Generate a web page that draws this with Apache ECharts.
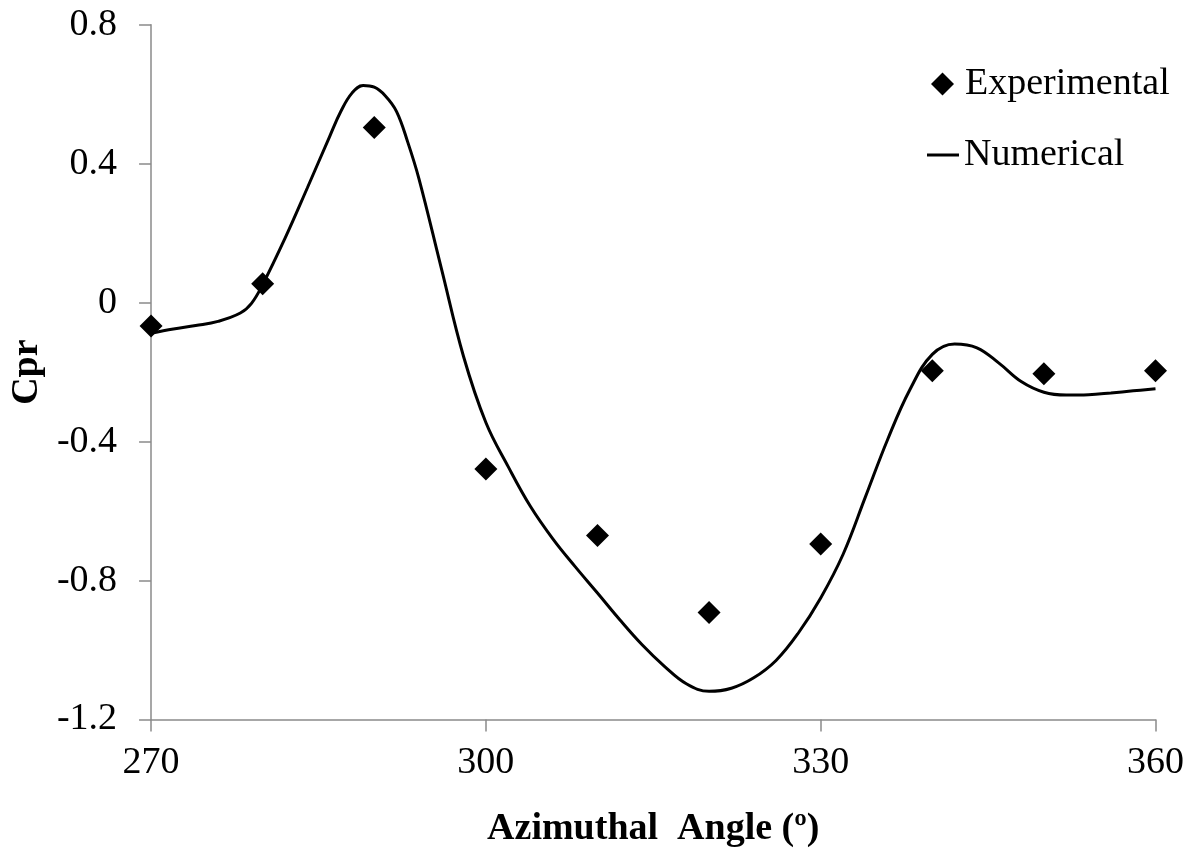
<!DOCTYPE html>
<html>
<head>
<meta charset="utf-8">
<script src="https://cdn.jsdelivr.net/npm/echarts@6/dist/echarts.min.js"></script>
<style>html,body{margin:0;padding:0;background:#fff;}#c{width:1190px;height:854px;}</style>
</head>
<body>
<div id="c"></div>
<script>
// Experimental points
var expAngles = [270, 280, 290, 300, 310, 320, 330, 340, 350, 360];
var expCpr    = [-0.067, 0.054, 0.504, -0.479, -0.67, -0.892, -0.695, -0.196, -0.205, -0.196];

// Numerical curve
var numAngles = [270, 272, 274, 276, 278, 279, 280, 282, 284, 286, 287, 288, 289, 290, 291, 292, 293, 294, 296, 298, 300, 302, 304, 306, 308, 310, 312, 314, 316, 318, 320, 322, 324, 326, 328, 330, 332, 334, 336, 338, 340, 342, 344, 346, 348, 350, 352, 354, 356, 358, 360];
var numCpr    = [-0.088, -0.076, -0.066, -0.054, -0.03, -0.002, 0.052, 0.185, 0.33, 0.478, 0.55, 0.603, 0.625, 0.62, 0.595, 0.55, 0.462, 0.357, 0.10, -0.155, -0.345, -0.472, -0.587, -0.68, -0.76, -0.836, -0.913, -0.985, -1.047, -1.098, -1.119, -1.11, -1.08, -1.03, -0.951, -0.85, -0.725, -0.56, -0.394, -0.25, -0.149, -0.119, -0.13, -0.175, -0.228, -0.258, -0.266, -0.265, -0.26, -0.254, -0.248];

var FONT = '"Liberation Serif", "Times New Roman", serif';

var expData = expAngles.map(function (a, i) { return [a, expCpr[i]]; });
var numData = numAngles.map(function (a, i) { return [a, numCpr[i]]; });

var chart = echarts.init(document.getElementById('c'), null, {renderer: 'canvas'});
chart.setOption({
  animation: false,
  backgroundColor: '#ffffff',
  grid: {left: 150, right: 34.5, top: 24.7, bottom: 134.5},
  legend: [
    {
      data: [{name: 'Experimental', icon: 'diamond'}],
      left: 926, top: 60, orient: 'vertical',
      itemWidth: 23, itemHeight: 23,
      textStyle: {fontFamily: FONT, fontSize: 38, color: '#000', padding: [0, 0, 0, 6]}
    },
    {
      data: [{name: 'Numerical', icon: 'rect'}],
      left: 922, top: 131, orient: 'vertical',
      itemWidth: 32, itemHeight: 3,
      textStyle: {fontFamily: FONT, fontSize: 38, color: '#000'}
    }
  ],
  xAxis: {
    type: 'value', min: 270, max: 360, interval: 30,
    name: 'Azimuthal  Angle (º)', nameLocation: 'middle', nameGap: 91,
    nameTextStyle: {fontFamily: FONT, fontSize: 38, fontWeight: 'bold', color: '#000'},
    axisLine: {show: true, onZero: false, lineStyle: {color: '#8a8a8a', width: 1.5}},
    axisTick: {show: true, length: 12, lineStyle: {color: '#8a8a8a', width: 1.5}},
    axisLabel: {fontFamily: FONT, fontSize: 38, color: '#000', margin: 25},
    splitLine: {show: false}
  },
  yAxis: {
    type: 'value', min: -1.2, max: 0.8, interval: 0.4,
    name: 'Cpr', nameLocation: 'middle', nameGap: 104,
    nameTextStyle: {fontFamily: FONT, fontSize: 38, fontWeight: 'bold', color: '#000'},
    axisLine: {show: true, onZero: false, lineStyle: {color: '#8a8a8a', width: 1.5}},
    axisTick: {show: true, length: 12, lineStyle: {color: '#8a8a8a', width: 1.5}},
    axisLabel: {fontFamily: FONT, fontSize: 38, color: '#000', margin: 34},
    splitLine: {show: false}
  },
  series: [
    {
      name: 'Numerical', type: 'line', data: numData, smooth: 0.4,
      showSymbol: false, symbol: 'none',
      lineStyle: {color: '#000', width: 3},
      itemStyle: {color: '#000'},
      z: 2
    },
    {
      name: 'Experimental', type: 'scatter', data: expData,
      symbol: 'diamond', symbolSize: 23,
      itemStyle: {color: '#000', opacity: 1},
      z: 3
    }
  ]
});
</script>
</body>
</html>
